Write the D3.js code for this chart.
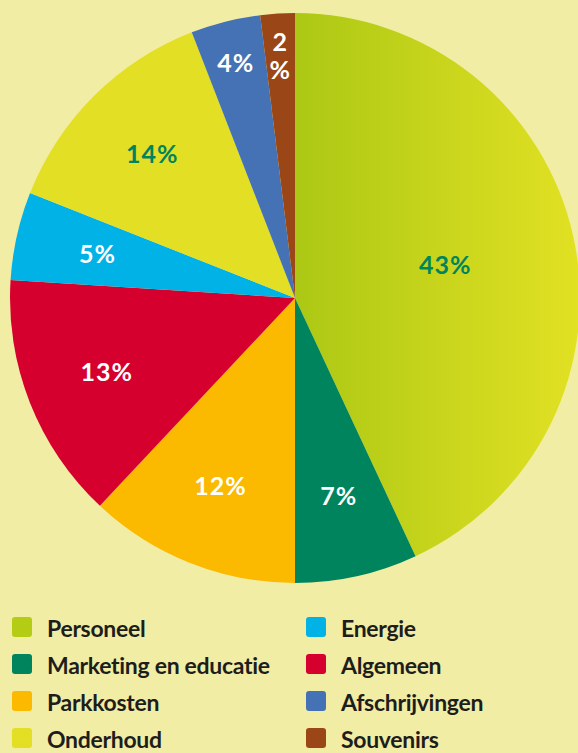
<!DOCTYPE html>
<html>
<head>
<meta charset="utf-8">
<script src="https://cdn.jsdelivr.net/npm/d3@7"></script>
<style>
  html, body { margin: 0; padding: 0; background: #f2eda5; }
  svg { display: block; }
</style>
</head>
<body>
<svg id="pie" width="578" height="753"></svg>
<script>
// kostenverdeling: slice sizes as drawn (%) and printed labels
var categories = ["Personeel", "Marketing en educatie", "Parkkosten", "Algemeen",
                  "Energie", "Onderhoud", "Afschrijvingen", "Souvenirs"];
var values = [43.05, 6.95, 12.0, 14.0, 5.0, 13.1, 3.95, 1.95];
var pctLabels = ["43", "7", "12", "13", "5", "14", "4", "2"];
var colors = ["#b4cd14", "#00845d", "#fbb900", "#d6002f",
              "#00b2e6", "#e3df24", "#4472b5", "#9b4616"];
var labelColors = ["#00845d", "#fff", "#fff", "#fff", "#fff", "#00845d", "#fff", "#fff"];
// legend order (two columns)
var legendOrder = ["Personeel", "Marketing en educatie", "Parkkosten", "Onderhoud",
                   "Energie", "Algemeen", "Afschrijvingen", "Souvenirs"];

var data = categories.map((c, i) => ({
  name: c, value: values[i], pct: pctLabels[i], color: colors[i], label: labelColors[i]
}));

var svg = d3.select('#pie'),
  cx = 295, cy = 298, radius = 285;

// gradient for the big slice (coords are in the translated group)
var defs = svg.append('defs');
var grad = defs.append('linearGradient')
  .attr('id', 'persGrad')
  .attr('gradientUnits', 'userSpaceOnUse')
  .attr('x1', 0).attr('y1', 0)
  .attr('x2', radius).attr('y2', 0);
grad.append('stop').attr('offset', '0%').attr('stop-color', '#acc814');
grad.append('stop').attr('offset', '100%').attr('stop-color', '#e2e123');

var g = svg.append('g')
  .attr('transform', 'translate(' + cx + ',' + cy + ')');

var pie = d3.pie()
  .value(d => d.value)
  .sort(null);

var path = d3.arc()
  .outerRadius(radius)
  .innerRadius(0);

function labelRadius(v) {
  if (v > 30) return radius * 0.54;
  if (v < 4.5) return radius * 0.85;
  return radius * 0.71;
}

var arc = g.selectAll('.arc')
  .data(pie(data))
  .enter()
  .append('g')
  .attr('class', 'arc');

arc.append('path')
  .attr('d', path)
  .attr('fill', (d, i) => i === 0 ? 'url(#persGrad)' : d.data.color);

arc.append('text')
  .attr('transform', d => {
    var r = labelRadius(d.data.value);
    var c = d3.arc().innerRadius(r).outerRadius(r).centroid(d);
    return 'translate(' + c + ')';
  })
  .attr('text-anchor', 'middle')
  .style('font-family', 'Lato, sans-serif')
  .style('font-weight', 'bold')
  .style('font-size', '25px')
  .style('letter-spacing', '1px')
  .style('fill', d => d.data.label)
  .each(function(d) {
    var t = d3.select(this);
    if (d.data.value < 3) {
      t.append('tspan').attr('x', 0).attr('dy', '-0.2em').text(d.data.pct);
      t.append('tspan').attr('x', 0).attr('dy', '1.1em').text('%');
    } else {
      t.attr('dy', '0.36em').text(d.data.pct + '%');
    }
  });

// Legend
var colorOf = d3.scaleOrdinal().domain(categories).range(colors);

var legend = svg.selectAll('.legend')
  .data(legendOrder)
  .enter().append('g')
  .attr('class', 'legend')
  .attr('transform', (d, i) => 'translate(' + (i < 4 ? 12 : 306) + ',' + (617 + (i % 4) * 37) + ')');

legend.append('rect')
  .attr('width', 20)
  .attr('height', 20)
  .attr('rx', 3)
  .style('fill', d => colorOf(d));

legend.append('text')
  .attr('x', 35)
  .attr('y', 20)
  .style('font-family', 'Lato, sans-serif')
  .style('font-weight', 'bold')
  .style('font-size', '23px')
  .style('letter-spacing', '-0.3px')
  .style('fill', '#1d1d1b')
  .text(d => d);
</script>
</body>
</html>
